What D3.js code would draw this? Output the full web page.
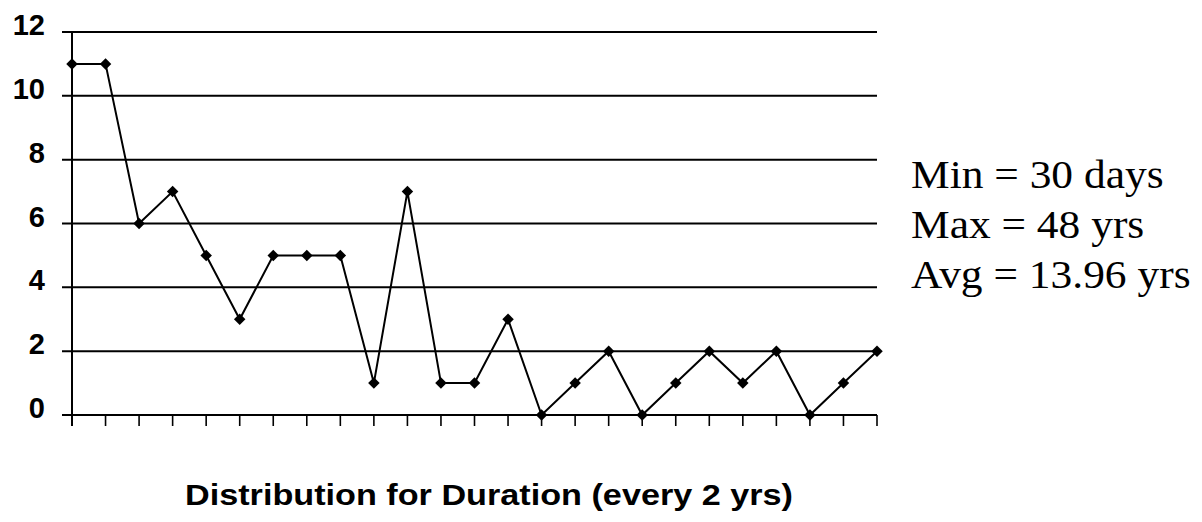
<!DOCTYPE html>
<html>
<head>
<meta charset="utf-8">
<script src="https://cdn.jsdelivr.net/npm/d3@7"></script>
<style>
  body { margin: 0; background: #fff; }
  svg { display: block; }
  .tick-label { font-family: Arial, "Liberation Sans", sans-serif; font-weight: bold; font-size: 29px; fill: #000; }
  .title { font-family: Arial, "Liberation Sans", sans-serif; font-weight: bold; font-size: 29px; fill: #000; }
  .stats { font-family: "Times New Roman", "Liberation Serif", serif; font-size: 41px; fill: #000; }
</style>
</head>
<body>
<div id="chart"></div>
<script>
// =====================
// Data
// =====================
const bins = d3.range(1, 26); // 25 two-year buckets
const counts = [11, 11, 6, 7, 5, 3, 5, 5, 5, 1, 7, 1, 1, 3, 0, 1, 2, 0, 1, 2, 1, 2, 0, 1, 2];
const yTicks = [0, 2, 4, 6, 8, 10, 12];
const statLines = ["Min = 30 days", "Max = 48 yrs", "Avg = 13.96 yrs"];
const titleText = "Distribution for Duration (every 2 yrs)";

// =====================
// Chart
// =====================
const width = 1202;
const height = 522;
const plot = { left: 72, right: 877, top: 32, bottom: 415 };

const svg = d3.select("#chart").append("svg")
  .attr("width", width)
  .attr("height", height);

const x = d3.scalePoint()
  .domain(bins)
  .range([plot.left, plot.right]);

const y = d3.scaleLinear()
  .domain([0, 12])
  .range([plot.bottom, plot.top]);

// Horizontal grid lines (one per y tick)
svg.append("g")
  .selectAll("line")
  .data(yTicks)
  .enter()
  .append("line")
  .attr("x1", plot.left - 10)
  .attr("x2", plot.right)
  .attr("y1", d => y(d))
  .attr("y2", d => y(d))
  .attr("stroke", "#000")
  .attr("stroke-width", 2);

// Y tick labels
svg.append("g")
  .selectAll("text")
  .data(yTicks)
  .enter()
  .append("text")
  .attr("class", "tick-label")
  .attr("x", 45)
  .attr("y", d => y(d) + 3)
  .attr("text-anchor", "end")
  .text(d => d);

// Vertical axis
svg.append("line")
  .attr("x1", plot.left)
  .attr("x2", plot.left)
  .attr("y1", y(12))
  .attr("y2", y(0) + 11)
  .attr("stroke", "#000")
  .attr("stroke-width", 2);

// X ticks under the axis
svg.append("g")
  .selectAll("line")
  .data(bins)
  .enter()
  .append("line")
  .attr("x1", d => x(d))
  .attr("x2", d => x(d))
  .attr("y1", y(0))
  .attr("y2", y(0) + 11)
  .attr("stroke", "#000")
  .attr("stroke-width", 1.6);

// Series line
const line = d3.line()
  .x((d, i) => x(bins[i]))
  .y(d => y(d));

svg.append("path")
  .datum(counts)
  .attr("d", line)
  .attr("fill", "none")
  .attr("stroke", "#000")
  .attr("stroke-width", 2);

// Diamond markers (square turned 45 degrees)
svg.append("g")
  .selectAll("path")
  .data(counts)
  .enter()
  .append("path")
  .attr("d", d3.symbol().type(d3.symbolSquare).size(66))
  .attr("transform", (d, i) => `translate(${x(bins[i])},${y(d)}) rotate(45)`)
  .attr("fill", "#000");

// Stats text on the right (scan is a bit wide, so stretch slightly)
svg.append("g")
  .attr("transform", "translate(911,0) scale(1.06,1)")
  .selectAll("text")
  .data(statLines)
  .enter()
  .append("text")
  .attr("class", "stats")
  .attr("x", 0)
  .attr("y", (d, i) => 188 + i * 50)
  .text(d => d);

// Title below, stretched to the width seen in the scan
svg.append("text")
  .attr("class", "title")
  .attr("x", 185)
  .attr("y", 505)
  .attr("textLength", 608)
  .attr("lengthAdjust", "spacingAndGlyphs")
  .text(titleText);
</script>
</body>
</html>
